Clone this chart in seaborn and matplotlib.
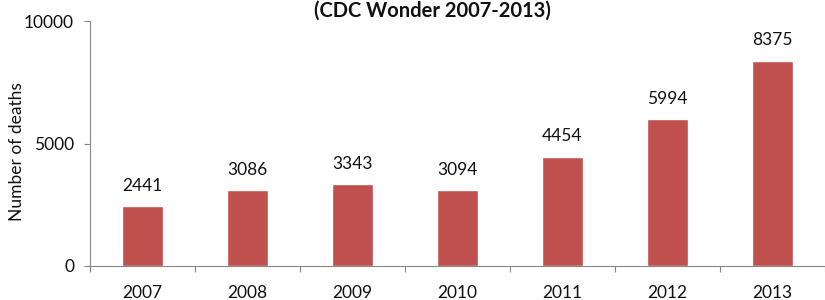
import numpy as np
import pandas as pd
import seaborn as sns
from matplotlib import pyplot as plt

sns.set_style('white')
plt.rcParams['font.family'] = ['Lato', 'DejaVu Sans']

years = ['2007', '2008', '2009', '2010', '2011', '2012', '2013']
deaths = [2441, 3086, 3343, 3094, 4454, 5994, 8375]

df = pd.DataFrame({'year': years, 'deaths': deaths})

fig = plt.figure(figsize=(8.25, 3), dpi=100)
ax = fig.add_axes([90 / 825, 1 - 266 / 300, 735 / 825, 245 / 300])

sns.barplot(data=df, x='year', y='deaths', color='#C0504D', saturation=1,
            width=0.39, ax=ax)

# value labels above bars
for i, v in enumerate(deaths):
    ax.annotate(str(v), (i, v), xytext=(0, 9), textcoords='offset points',
                ha='center', va='bottom', fontsize=12.5, color='#111111')

ax.set_ylim(0, 10000)
ax.set_xlim(-0.5, len(years) - 0.5)
ax.set_yticks([0, 5000, 10000])
ax.tick_params(axis='y', length=4.5, width=0.8, color='#868686', pad=7,
               labelsize=12.5, labelcolor='#111111', left=True)
ax.tick_params(axis='x', which='major', length=0, pad=14, labelsize=12.5,
               labelcolor='#111111')
# ticks between categories
ax.set_xticks(np.arange(-0.5, len(years)), minor=True)
ax.tick_params(axis='x', which='minor', length=4.5, width=0.8,
               color='#868686', bottom=True)

for side in ['top', 'right']:
    ax.spines[side].set_visible(False)
for side in ['left', 'bottom']:
    ax.spines[side].set_color('#868686')
    ax.spines[side].set_linewidth(0.8)

ax.set_xlabel('')
ax.set_ylabel('')
fig.text(17 / 825, 1 - 152 / 300, 'Number of deaths', rotation=90,
         ha='center', va='center', fontsize=12.5, color='#111111')
fig.text(432 / 825, 1 - 11 / 300, '(CDC Wonder 2007-2013)', ha='center',
         va='center', fontsize=14.5, fontweight='bold', color='#111111')

fig.savefig('out.png', dpi=100)
